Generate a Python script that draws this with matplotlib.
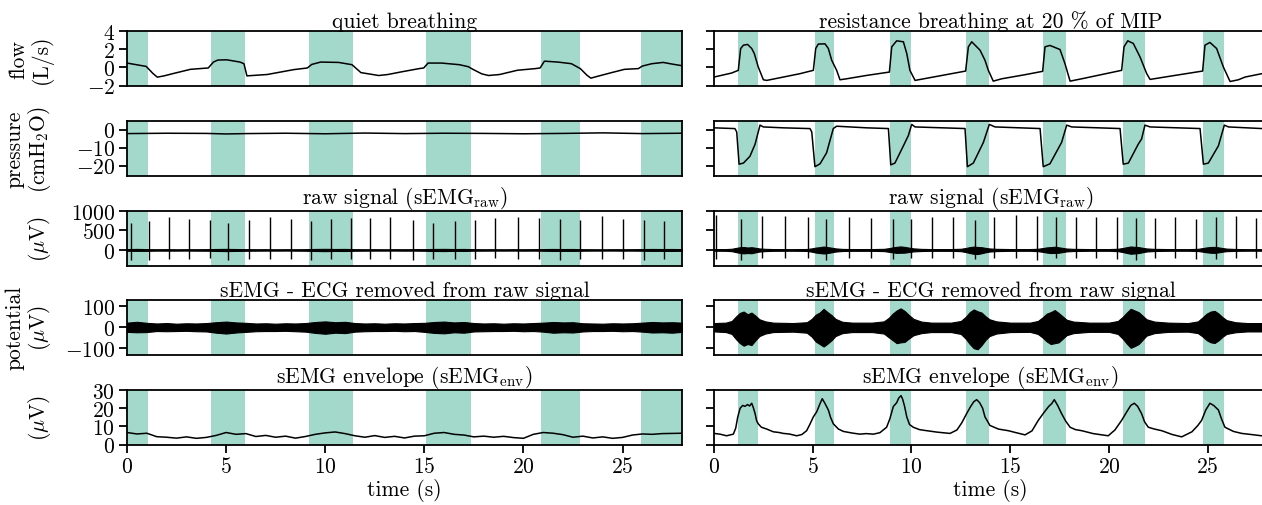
import matplotlib
matplotlib.use("Agg")
import matplotlib.pyplot as plt

plt.rcParams['font.family'] = 'serif'
plt.rcParams['font.serif'] = ['cmr10']
plt.rcParams['mathtext.fontset'] = 'cm'
plt.rcParams['axes.formatter.use_mathtext'] = True
plt.rcParams['font.size'] = 15.5
plt.rcParams['axes.linewidth'] = 1.3

# ---------------- data ----------------
# inspiration windows (s)
spans_quiet = [(0.0, 1.05), (4.24, 5.95), (9.2, 11.4), (15.06, 17.33), (20.87, 22.84), (25.92, 28.0)]
spans_res = [(1.23, 2.21), (5.11, 6.08), (8.91, 9.97), (12.76, 13.91), (16.66, 17.81), (20.71, 21.82), (24.76, 25.81)]

# flow (L/s)
t_flow_q = [0, 0.97, 1.31, 1.53, 1.87, 2.3, 3.2, 4.1, 4.36, 4.58, 5.03, 5.7, 5.9, 6.05, 7.07, 8.42,
            9.1, 9.32, 9.77, 10.68, 11.35, 11.8, 12.7, 13.16, 13.84, 14.74, 14.97, 15.19, 15.87, 16.77,
            17.22, 17.45, 17.9, 18.24, 18.8, 19.7, 20.6, 20.84, 21.06, 21.74, 22.42, 22.87, 23.2, 23.4,
            23.77, 24.45, 25.1, 25.8, 26.0, 26.48, 27.05, 27.5, 28]
flow_q = [0.47, 0.1, -0.68, -1.08, -0.94, -0.7, -0.22, -0.07, 0.58, 0.8, 0.83, 0.58, 0.4, -0.94, -0.79, -0.25,
          -0.07, 0.32, 0.58, 0.54, 0.29, -0.58, -0.9, -0.79, -0.5, -0.14, -0.07, 0.47, 0.47, 0.29,
          0.07, -0.22, -0.72, -0.9, -0.79, -0.32, -0.14, -0.07, 0.68, 0.58, 0.4, -0.14, -0.86, -1.19,
          -0.97, -0.58, -0.22, -0.14, 0.14, 0.4, 0.54, 0.36, 0.18]

t_flow_r = [0, 0.89, 1.23, 1.35, 1.49, 1.7, 1.91, 2.04, 2.24, 2.5, 2.67, 3.51, 4.35, 5.03, 5.15, 5.28,
            5.62, 5.79, 5.96, 6.21, 6.38, 6.72, 7.73, 8.88, 9.0, 9.25, 9.59, 9.76, 9.92, 10.18, 11.1,
            12.74, 12.88, 13.05, 13.22, 13.47, 13.72, 13.89, 14.14, 14.57, 15.75, 16.64, 16.76, 17.01,
            17.52, 17.77, 18.03, 18.62, 20.64, 20.76, 20.95, 21.23, 21.57, 21.91, 22.08, 23.34, 24.74,
            24.86, 25.11, 25.45, 25.79, 26.13, 26.55, 26.89, 27.73, 28]
flow_r = [-1.07, -0.63, -0.33, 2.07, 2.44, 2.52, 2.07, 1.52, 0.04, -1.37, -1.44, -1.07, -0.7, -0.33, 2.07, 2.56,
          2.59, 2.07, 0.78, -0.33, -1.37, -1.26, -0.89, -0.52, 2.26, 2.92, 2.81, 1.52, -0.33, -1.44, -1.07,
          -0.41, 2.26, 2.81, 2.44, 1.89, 0.78, -0.33, -1.52, -1.26, -0.81, -0.44, 2.26, 2.41,
          1.96, 0.41, -1.52, -1.26, -0.33, 2.26, 2.92, 2.63, 1.15, -0.7, -1.33, -0.89, -0.41,
          2.44, 2.74, 2.07, 0.04, -1.56, -1.37, -1.07, -0.7, -0.62]

# mouth pressure (cmH2O)
t_pres_q = [0, 2, 4, 5, 6, 8, 10, 12, 14, 16, 18, 20, 22, 24, 26, 28]
pres_q = [-2.2, -2.0, -2.1, -2.4, -2.2, -2.0, -2.3, -1.9, -2.2, -2.0, -2.1, -2.3, -2.1, -1.8, -2.2, -2.0]

t_pres_r = [0, 1.06, 1.15, 1.27, 1.49, 1.82, 2.08, 2.33, 2.5, 3.51, 4.86, 4.95, 5.11, 5.37, 5.7, 6.04,
            6.21, 7.73, 8.83, 8.95, 9.16, 9.59, 9.84, 10.01, 10.18, 12.71, 12.83, 13.13, 13.64, 13.94,
            14.23, 16.51, 16.67, 17.01, 17.6, 17.86, 18.11, 20.56, 20.72, 20.98, 21.48, 21.65, 21.82,
            22.08, 24.61, 24.78, 25.03, 25.54, 25.84, 26.05, 27.73, 28]
pres_r = [1.0, 0.58, -1.3, -19.2, -18.6, -14.8, -8.1, 2.5, 1.5, 1.0, 0.58, -1.3, -20.6, -19.0, -12.9, 0.6,
          1.9, 1.0, 0.6, -19.6, -18.6, -9.0, -3.3, 2.9, 1.5, 0.6, -20.6, -18.6, -7.1, 2.9,
          1.5, 0.6, -20.6, -19.0, -7.1, 2.5, 1.5, 0.6, -19.2, -18.6, -8.1, -5.2, 2.5,
          1.5, 0.6, -19.2, -18.6, -9.0, 2.5, 1.5, 0.6, 0.5]

# ECG R-peaks / S-dips in the raw signal (uV)
t_beat_q = [0.19, 1.13, 2.14, 3.15, 4.19, 5.09, 6.15, 7.19, 8.29, 9.28, 10.31, 11.3, 12.28, 13.29,
            14.44, 15.43, 16.54, 17.58, 18.56, 19.74, 20.78, 21.84, 22.84, 23.95, 25.0, 26.06, 27.1]
r_peak_q = [703, 746, 856, 805, 771, 703, 771, 856, 805, 746, 788, 830, 830, 856,
            771, 703, 746, 771, 830, 856, 830, 788, 771, 873, 805, 771, 746]
s_dip_q = [-270, -250, -230, -240, -220, -250, -230, -240, -230, -250, -240, -230, -240, -230,
           -250, -240, -230, -240, -220, -230, -240, -250, -230, -240, -230, -250, -240]

t_beat_r = [0.1, 1.35, 2.41, 3.59, 4.74, 5.66, 6.85, 7.93, 9.05, 9.97, 11.02, 12.11, 13.22, 14.19,
            15.28, 16.34, 17.32, 18.31, 19.34, 20.39, 21.37, 22.33, 23.34, 24.39, 25.4, 26.41, 27.44]
r_peak_r = [900, 790, 870, 880, 840, 800, 840, 830, 800, 790, 850, 840, 780, 850,
            890, 880, 840, 850, 850, 850, 830, 810, 850, 800, 840, 880, 820]
s_dip_r = [-230, -250, -200, -220, -210, -260, -220, -210, -240, -220, -200, -210, -230, -220,
           -220, -260, -210, -200, -210, -230, -250, -210, -200, -230, -240, -210, -200]

# sEMG (ECG removed) amplitude band (uV), quiet breathing
t_band_q = [0, 0.5, 1.0, 1.5, 2.0, 2.5, 3.0, 3.5, 4.0, 4.5,
            5.0, 5.5, 6.0, 6.5, 7.0, 7.5, 8.0, 8.5, 9.0, 9.5,
            10.0, 10.5, 11.0, 11.5, 12.0, 12.5, 13.0, 13.5, 14.0, 14.5,
            15.0, 15.5, 16.0, 16.5, 17.0, 17.5, 18.0, 18.5, 19.0, 19.5,
            20.0, 20.5, 21.0, 21.5, 22.0, 22.5, 23.0, 23.5, 24.0, 24.5,
            25.0, 25.5, 26.0, 26.5, 27.0, 27.5, 28.0]
band_hi_q = [22, 26, 21, 18, 20, 17, 19, 18, 20, 24,
             27, 23, 21, 18, 19, 17, 19, 18, 20, 25,
             28, 24, 26, 20, 18, 19, 17, 19, 18, 20,
             21, 25, 27, 23, 25, 20, 18, 19, 17, 19,
             18, 20, 22, 25, 23, 24, 19, 18, 17, 19,
             18, 19, 22, 25, 23, 24, 22]
band_lo_q = [-22, -24, -23, -18, -19, -18, -17, -19, -20, -26,
             -30, -25, -22, -19, -18, -18, -17, -19, -21, -27,
             -31, -26, -28, -21, -19, -18, -18, -17, -19, -18,
             -22, -27, -29, -24, -26, -20, -19, -18, -18, -17,
             -19, -18, -21, -26, -24, -25, -20, -18, -18, -17,
             -19, -18, -21, -25, -24, -26, -22]

# sEMG (ECG removed) amplitude band (uV), resistance breathing
t_band_r = [0, 0.6, 0.9, 1.1, 1.3, 1.5, 1.7, 1.9, 2.1, 2.3, 2.6, 3.0, 4.0, 4.7, 4.95, 5.15, 5.35,
            5.55, 5.75, 5.95, 6.15, 6.5, 7.0, 8.0, 8.6, 8.85, 9.05, 9.25, 9.45, 9.65, 9.85, 10.1,
            10.5, 11.0, 12.0, 12.5, 12.75, 12.95, 13.15, 13.35, 13.55, 13.75, 13.95, 14.3, 15.0,
            16.0, 16.4, 16.65, 16.85, 17.05, 17.25, 17.45, 17.65, 17.85, 18.2, 19.0, 20.0, 20.45,
            20.7, 20.9, 21.1, 21.3, 21.5, 21.7, 21.9, 22.3, 23.0, 24.0, 24.5, 24.75, 24.95, 25.15,
            25.35, 25.55, 25.75, 25.95, 26.4, 27.0, 28]
band_hi_r = [20, 22, 30, 50, 68, 75, 62, 70, 55, 38, 28, 22, 20, 24, 40, 60, 70,
             88, 72, 58, 40, 26, 22, 22, 28, 45, 65, 80, 90, 78, 60, 40,
             27, 22, 22, 30, 50, 72, 85, 76, 70, 52, 38, 28, 22,
             22, 30, 48, 65, 72, 82, 68, 52, 36, 27, 22, 22, 30,
             50, 70, 88, 80, 72, 55, 38, 27, 22, 20, 28, 48, 65, 75,
             78, 65, 48, 34, 24, 20, 20]
band_lo_r = [-20, -23, -32, -55, -75, -88, -80, -85, -62, -42, -30, -23, -21, -26, -45, -68, -80,
             -92, -78, -62, -42, -28, -23, -23, -30, -48, -62, -76, -72, -70, -55, -38,
             -28, -23, -23, -32, -55, -80, -100, -105, -85, -60, -42, -30, -23,
             -22, -32, -50, -68, -80, -76, -72, -55, -38, -28, -22, -22, -32,
             -55, -78, -98, -90, -80, -60, -40, -28, -22, -21, -28, -45, -62, -72,
             -75, -62, -45, -32, -24, -20, -20]

# sEMG envelope (uV)
t_env_q = t_band_q
env_q = [6.6, 5.8, 6.2, 4.3, 4.0, 3.5, 4.2, 3.4, 3.9, 5.0,
         6.6, 5.6, 6.0, 4.4, 5.0, 4.0, 4.6, 3.5, 4.4, 5.6,
         6.4, 6.9, 6.0, 4.8, 4.0, 4.9, 3.9, 4.5, 3.6, 4.6,
         4.8, 6.2, 6.6, 5.6, 5.2, 4.2, 4.6, 4.0, 4.5, 3.8,
         3.4, 5.6, 6.6, 6.2, 5.4, 4.0, 4.6, 3.6, 4.2, 3.4,
         3.9, 5.2, 5.8, 5.6, 6.0, 6.1, 6.2]

t_env_r = [0, 0.3, 0.64, 0.98, 1.1, 1.2, 1.32, 1.45, 1.57, 1.7,
           1.8, 1.91, 2.0, 2.08, 2.16, 2.24, 2.4, 2.67, 3.0, 3.3,
           3.51, 3.8, 4.19, 4.45, 4.69, 4.85, 5.03, 5.2, 5.35, 5.48,
           5.6, 5.79, 5.9, 6.04, 6.3, 6.55, 7.0, 7.39, 7.7, 8.07,
           8.4, 8.74, 8.9, 9.08, 9.25, 9.35, 9.47, 9.55, 9.65, 9.76,
           9.9, 10.09, 10.4, 10.77, 11.3, 11.95, 12.3, 12.55, 12.79, 13.0,
           13.15, 13.3, 13.45, 13.6, 13.72, 13.97, 14.4, 14.9, 15.3, 15.75,
           16.1, 16.42, 16.7, 16.95, 17.1, 17.23, 17.4, 17.6, 17.8, 18.03,
           18.3, 18.62, 19.2, 19.96, 20.3, 20.64, 20.9, 21.1, 21.28, 21.45,
           21.65, 21.8, 21.99, 22.3, 22.67, 23.2, 23.68, 24.2, 24.5, 24.69,
           24.9, 25.11, 25.3, 25.54, 25.7, 25.87, 26.3, 26.72, 27.2, 27.73,
           28]
env_r = [6.1, 5.7, 4.8, 5.7, 9, 15, 19.9, 21.5, 21.0, 22,
         21.2, 22.7, 20, 17, 13, 11.4, 9.5, 8.5, 7, 6.6,
         6.1, 5.8, 4.8, 5.5, 7.6, 11, 15.2, 18, 22, 25.2,
         23, 19.0, 15, 11.4, 8.5, 7.2, 6.3, 5.7, 6.0, 5.7,
         6.5, 9.5, 14, 20.9, 23, 25.5, 26.9, 25, 21, 15.2,
         11, 9.5, 8.2, 7.6, 6.8, 6.1, 8, 12, 17.0, 21,
         23.5, 24.7, 23, 20, 15.2, 10.5, 8.5, 7.6, 6.5, 5.3,
         7.5, 13.3, 17.5, 21, 22.5, 24.7, 21.5, 17.0, 13, 9.5,
         8.2, 7.6, 6, 4.8, 8, 13.3, 18, 21.5, 22.7, 21,
         17.0, 12.5, 9.5, 8.5, 7.6, 5.5, 4.2, 7, 10.5, 13.3,
         19, 22.7, 21.5, 19.0, 14, 9.5, 7.2, 6.1, 5.5, 4.8,
         4.9]

titles_q = ["quiet breathing", None, r"raw signal (sEMG$_{\rm raw}$)",
            "sEMG - ECG removed from raw signal", r"sEMG envelope (sEMG$_{\rm env}$)"]
titles_r = ["resistance breathing at 20 % of MIP", None, r"raw signal (sEMG$_{\rm raw}$)",
            "sEMG - ECG removed from raw signal", r"sEMG envelope (sEMG$_{\rm env}$)"]
ylabels = ["flow\n(L/s)", "pressure\n(cmH$_2$O)", "\n($\\mu$V)", "potential\n($\\mu$V)", "\n($\\mu$V)"]
yticks = [[-2, 0, 2, 4], [-20, -10, 0], [0, 500, 1000], [-100, 0, 100], [0, 10, 20, 30]]
ylims = [(-2, 4), (-25.5, 4.8), (-400, 1000), (-130, 130), (0, 30)]
xticks = [0, 5, 10, 15, 20, 25]

shade = '#a3d9cb'

# ---------------- layout ----------------
W, H = 1262, 506
fig = plt.figure(figsize=(W / 100, H / 100), dpi=100)
row_top = [32, 122, 212, 301, 391]
row_h = 54.5
col_x = [(127, 555), (714, 553)]

axes = []
for i in range(5):
    row = []
    for j in range(2):
        x0, w = col_x[j]
        ax = fig.add_axes([x0 / W, 1 - (row_top[i] + row_h) / H, w / W, row_h / H])
        row.append(ax)
    axes.append(row)

for j, spans in enumerate([spans_quiet, spans_res]):
    for i in range(5):
        ax = axes[i][j]
        for a, b in spans:
            ax.axvspan(a, b, color=shade, lw=0, zorder=0)
        ax.set_xlim(0, 28)
        ax.set_ylim(*ylims[i])
        ax.set_yticks(yticks[i])
        ax.tick_params(direction='out', length=5.5, width=1.3, pad=3)
        if i < 4:
            ax.tick_params(bottom=False, labelbottom=False)
        else:
            ax.set_xticks(xticks)
            ax.set_xlabel("time (s)", labelpad=1)
        if j == 1:
            ax.tick_params(labelleft=False)
        else:
            ax.set_ylabel(ylabels[i], linespacing=1.1)
            ax.yaxis.set_label_coords(-0.133, 0.5)
        t = titles_q[i] if j == 0 else titles_r[i]
        if t:
            ax.set_title(t, pad=2, fontsize=15.5)

lw = 1.1
# flow
axes[0][0].plot(t_flow_q, flow_q, 'k', lw=lw)
axes[0][1].plot(t_flow_r, flow_r, 'k', lw=lw)
# pressure
axes[1][0].plot(t_pres_q, pres_q, 'k', lw=lw)
axes[1][1].plot(t_pres_r, pres_r, 'k', lw=lw)
# raw = EMG band + ECG beats
axes[2][0].fill_between(t_band_q, band_lo_q, band_hi_q, color='k', lw=0.8)
axes[2][0].vlines(t_beat_q, s_dip_q, r_peak_q, color='k', lw=1.0)
axes[2][1].fill_between(t_band_r, band_lo_r, band_hi_r, color='k', lw=0.8)
axes[2][1].vlines(t_beat_r, s_dip_r, r_peak_r, color='k', lw=1.0)
# ECG removed
axes[3][0].fill_between(t_band_q, band_lo_q, band_hi_q, color='k', lw=0.8)
axes[3][1].fill_between(t_band_r, band_lo_r, band_hi_r, color='k', lw=0.8)
# envelope
axes[4][0].plot(t_env_q, env_q, 'k', lw=lw)
axes[4][1].plot(t_env_r, env_r, 'k', lw=lw)

fig.savefig("out.png", dpi=100)
